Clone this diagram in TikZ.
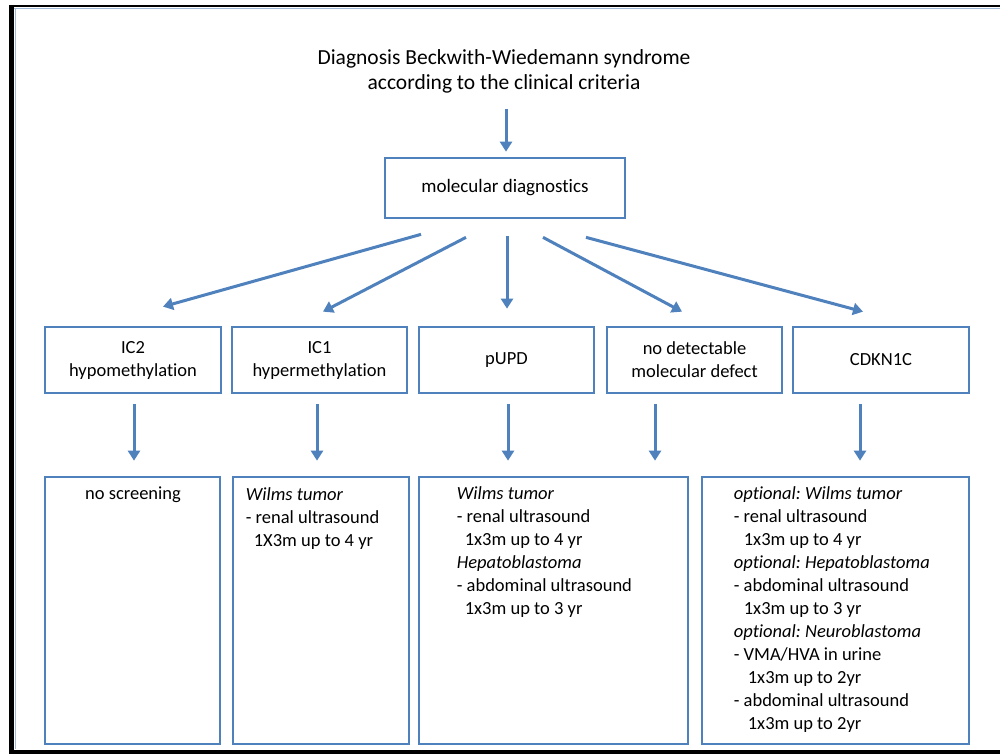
\documentclass[tikz,border=0pt]{standalone}
\usepackage{fontspec}
\setmainfont{Carlito}[Ligatures={NoCommon}]
\usetikzlibrary{arrows.meta,calc}
\definecolor{obl}{RGB}{79,129,189}
\definecolor{frameblue}{RGB}{160,185,215}
\frenchspacing
\begin{document}
\begin{tikzpicture}[x=1pt,y=-1pt,
  box/.style={draw=obl,line width=2.7pt,inner sep=0pt,minimum height=66pt,
    font=\fontsize{18.5}{23}\selectfont,align=center},
  tall/.style={draw=obl,line width=2.7pt,inner sep=0pt,minimum height=267pt},
  arr/.style={draw=obl,line width=3pt,-{Triangle[length=10pt,width=12pt]}},
  txt/.style={font=\fontsize{18.5}{23}\selectfont,align=left,inner sep=0pt,anchor=north west}
]
\useasboundingbox (0,0) rectangle (1000,754);
\fill[white] (0,0) rectangle (1000,754);
% outer frame
\draw[frameblue,line width=1.5pt] (15.5,9) -- (15.5,749);
\draw[frameblue,line width=1.2pt] (14,8.5) -- (1000,8.5);
\draw[black,line width=5pt] (11.5,5) -- (11.5,754);
\draw[black,line width=2.5pt] (9,6) -- (1000,6);
\draw[black,line width=4pt] (9,752) -- (1000,752);

% title
\node[font=\fontsize{21.5}{25}\selectfont,align=center,inner sep=0pt] (title) at (504,71)
  {Diagnosis Beckwith-Wiedemann syndrome\\according to the clinical criteria};

% molecular diagnostics
\node[draw=obl,line width=2.7pt,inner sep=0pt,minimum width=240pt,minimum height=60pt,
  font=\fontsize{19}{23}\selectfont] (md) at (505,188) {molecular diagnostics};

% top row
\node[box,minimum width=176pt] (ic2) at (133,360) {IC2\\hypomethylation};
\node[box,minimum width=175pt] (ic1) at (319.5,360) {IC1\\hypermethylation};
\node[box,minimum width=175pt] (pupd) at (506.5,360) {pUPD};
\node[box,minimum width=175pt] (nd) at (694.5,360) {no detectable\\molecular defect};
\node[box,minimum width=176pt] (cdk) at (881,360) {CDKN1C};

% bottom row
\node[tall,minimum width=175pt] (b1) at (132.5,610.5) {};
\node[tall,minimum width=176pt] (b2) at (321,610.5) {};
\node[tall,minimum width=269pt] (b3) at (553.5,610.5) {};
\node[tall,minimum width=267pt] (b4) at (835.5,610.5) {};

\node[font=\fontsize{18.5}{23}\selectfont,inner sep=0pt,anchor=base] (t1)
  at ($(b1.north)+(0.5,24)$) {no screening};
\node[txt] (t2) at ($(b2.north west)+(14,12)$)
  {\textit{Wilms tumor}\\- renal ultrasound\\\hspace*{8pt}1X3m up to 4 yr};
\node[txt] (t3) at ($(b3.north west)+(39,11)$)
  {\textit{Wilms tumor}\\- renal ultrasound\\\hspace*{8pt}1x3m up to 4 yr\\
   \textit{Hepatoblastoma}\\- abdominal ultrasound\\\hspace*{8pt}1x3m up to 3 yr};
\node[txt] (t4) at ($(b4.north west)+(33,11)$)
  {\textit{optional: Wilms tumor}\\- renal ultrasound\\\hspace*{10pt}1x3m up to 4 yr\\
   \textit{optional: Hepatoblastoma}\\- abdominal ultrasound\\\hspace*{10pt}1x3m up to 3 yr\\
   \textit{optional: Neuroblastoma}\\- VMA/HVA in urine\\\hspace*{14pt}1x3m up to 2yr\\
   - abdominal ultrasound\\\hspace*{14pt}1x3m up to 2yr};

% arrows
\draw[arr] ($(md.north)+(1,-48)$) -- ($(md.north)+(1,-5)$);
\draw[arr] ($(md.south)+(-84,15)$) -- ($(ic2.north)+(30,-19)$);
\draw[arr] ($(md.south)+(-39,18)$) -- ($(ic1.north)+(3.5,-14)$);
\draw[arr] ($(md.south)+(2,17)$) -- ($(pupd.north)+(0.5,-17)$);
\draw[arr] ($(md.south)+(38,18)$) -- ($(nd.north)+(-12.5,-14)$);
\draw[arr] ($(md.south)+(81,18)$) -- ($(cdk.north)+(-18,-14)$);

\draw[arr] ($(ic2.south)+(1,10)$) -- ($(ic2.south |- b1.north)+(1,-15)$);
\draw[arr] ($(ic1.south)+(-2.5,10)$) -- ($(ic1.south |- b2.north)+(-2.5,-15)$);
\draw[arr] ($(pupd.south)+(1.5,10)$) -- ($(pupd.south |- b3.north)+(1.5,-15)$);
\draw[arr] ($(nd.south)+(-39.5,10)$) -- ($(nd.south |- b3.north)+(-39.5,-15)$);
\draw[arr] ($(cdk.south)+(-21,10)$) -- ($(cdk.south |- b4.north)+(-21,-15)$);
\end{tikzpicture}
\end{document}
